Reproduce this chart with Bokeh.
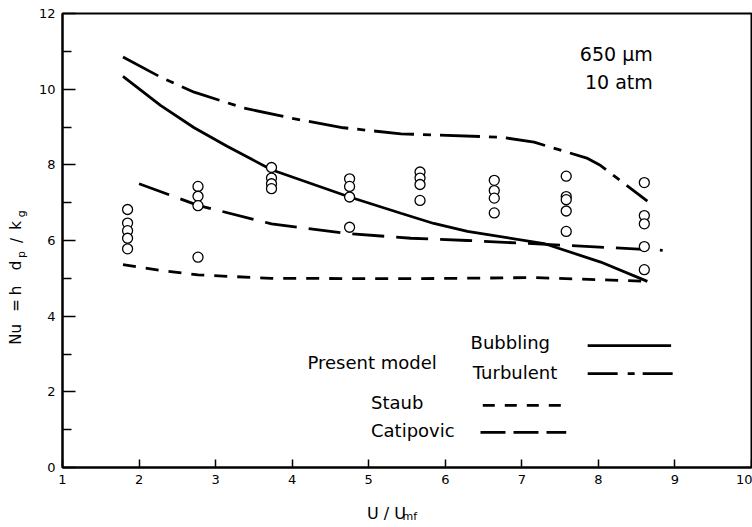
from bokeh.plotting import figure
from bokeh.models import Label, FixedTicker, Range1d, LinearAxis
from bokeh.embed import file_html
from bokeh.resources import INLINE

FONT = "DejaVu Sans"

# ---- data ----
bub_u = [1.79, 2.28, 2.72, 3.15, 3.46, 3.73, 4.75, 5.42, 5.85, 6.29, 7.29, 8.03, 8.64]
bub_nu = [10.34, 9.57, 8.98, 8.49, 8.16, 7.87, 7.15, 6.72, 6.45, 6.24, 5.92, 5.43, 4.92]

tur_u = [1.79, 2.28, 2.72, 3.37, 4.02, 4.67, 5.42, 6.73, 7.16, 7.86, 8.03, 8.64]
tur_nu = [10.85, 10.32, 9.92, 9.50, 9.22, 8.98, 8.82, 8.73, 8.60, 8.17, 7.98, 7.04]

cat_u = [2.00, 2.77, 3.73, 4.75, 5.55, 6.29, 7.60, 8.84]
cat_nu = [7.50, 6.93, 6.44, 6.18, 6.06, 6.00, 5.87, 5.74]

stb_u = [1.79, 2.28, 2.77, 3.73, 5.55, 7.16, 8.66]
stb_nu = [5.36, 5.21, 5.09, 5.00, 4.99, 5.02, 4.92]

exp_u = [1.85] * 5 + [2.77] * 4 + [3.73] * 4 + [4.75] * 4 + [5.67] * 4 + [6.64] * 4 + [7.58] * 5 + [8.60] * 5
exp_nu = [6.82, 6.46, 6.26, 6.06, 5.78,
          7.43, 7.17, 6.92, 5.56,
          7.93, 7.65, 7.50, 7.37,
          7.63, 7.43, 7.15, 6.35,
          7.81, 7.65, 7.48, 7.06,
          7.59, 7.32, 7.12, 6.73,
          7.70, 7.16, 7.08, 6.78, 6.24,
          7.53, 6.66, 6.44, 5.84, 5.23]

x_ticks = [1, 2, 3, 4, 5, 6, 7, 8, 9, 10]
y_ticks = [0, 2, 4, 6, 8, 10, 12]
y_minor = [1, 3, 5, 7, 9, 11]

# axis titles, split into pieces so the subscripts can be set lower/smaller
x_title_main = ["U / U"]
x_title_sub = ["mf"]
y_title_main = ["Nu", "=", "h", "d", "/", "k"]
y_title_sub = ["p", "g"]

# where the pieces sit along their axis (layout, in axis units)
x_main_pos = [5.232]
x_sub_pos = [5.536]
y_main_pos = [3.52, 4.28, 4.68, 5.34, 6.0, 6.4]
y_sub_pos = [5.63, 6.71]

W, H = 752, 527

# ---- figure ----
p = figure(width=W, height=H, x_range=Range1d(1, 10), y_range=Range1d(0, 12),
           output_backend="svg", toolbar_location=None,
           min_border_left=62, min_border_right=1, min_border_top=13, min_border_bottom=60)
p.xgrid.visible = False
p.ygrid.visible = False
p.outline_line_color = "black"
p.outline_line_width = 2
p.background_fill_color = "white"
p.border_fill_color = "white"

p.xaxis.ticker = FixedTicker(ticks=x_ticks)
p.yaxis.ticker = FixedTicker(ticks=y_ticks, minor_ticks=y_minor)
for ax in (p.xaxis, p.yaxis):
    ax.axis_line_width = 2
    ax.axis_line_color = "black"
    ax.major_tick_line_color = "black"
    ax.major_tick_line_width = 1.5
    ax.minor_tick_line_color = "black"
    ax.minor_tick_line_width = 1.5
    ax.major_tick_out = 0
    ax.minor_tick_out = 0
    ax.major_label_text_font = FONT
    ax.major_label_text_font_size = "13px"
    ax.major_label_text_color = "black"
    ax.major_label_standoff = 7
p.xaxis.major_tick_in = 8
p.xaxis.minor_tick_in = 0
p.yaxis.major_tick_in = 13
p.yaxis.minor_tick_in = 9


def text_axis(side, positions, texts, size, standoff, orientation="horizontal"):
    ax = LinearAxis(ticker=FixedTicker(ticks=positions),
                    major_label_overrides=dict(zip(positions, texts)))
    ax.axis_line_color = None
    ax.major_tick_line_color = None
    ax.minor_tick_line_color = None
    ax.major_tick_in = 0
    ax.major_tick_out = 0
    ax.minor_tick_in = 0
    ax.minor_tick_out = 0
    ax.major_label_text_font = FONT
    ax.major_label_text_font_size = size
    ax.major_label_text_color = "black"
    ax.major_label_standoff = standoff
    ax.major_label_orientation = orientation
    p.add_layout(ax, side)


# x title: main text row, then subscript pulled back up beside it
text_axis("below", x_main_pos, x_title_main, "16px", 17)
text_axis("below", x_sub_pos, x_title_sub, "11px", -16)
# y title: subscripts (nearer the frame) first, then main text pulled back over them
text_axis("left", y_sub_pos, y_title_sub, "11px", 7, "vertical")
text_axis("left", y_main_pos, y_title_main, "15px", -13, "vertical")

LW = 2.8
p.line(bub_u, bub_nu, line_color="black", line_width=LW)
p.line(tur_u, tur_nu, line_color="black", line_width=LW, line_dash="40 9 8 9")
p.line(cat_u, cat_nu, line_color="black", line_width=LW, line_dash="32 12")
p.line(stb_u, stb_nu, line_color="black", line_width=LW, line_dash="13 10")
p.scatter(exp_u, exp_nu, marker="circle", size=10, fill_color="white",
          line_color="black", line_width=1.3)

# ---- legend (drawn as in the original figure) ----
p.line([7.86, 8.95], [3.22, 3.22], line_color="black", line_width=LW)
p.line([7.86, 9.01], [2.48, 2.48], line_color="black", line_width=LW, line_dash="30 10 7 8")
p.line([6.49, 7.51], [1.64, 1.64], line_color="black", line_width=LW, line_dash="12 10")
p.line([6.46, 7.58], [0.93, 0.93], line_color="black", line_width=LW, line_dash="25 8")


def lab(x, y, t, size="18px", align="left", baseline="middle"):
    p.add_layout(Label(x=x, y=y, text=t, text_font=FONT, text_font_size=size,
                       text_align=align, text_baseline=baseline, text_color="black"))


lab(6.33, 3.30, "Bubbling")
lab(4.20, 2.78, "Present model")
lab(6.36, 2.51, "Turbulent")
lab(5.03, 1.72, "Staub")
lab(5.03, 0.98, "Catipovic")

lab(8.71, 10.94, "650 μm", size="19px", align="right")
lab(8.71, 10.18, "10 atm", size="19px", align="right")

open("out.html", "w").write(file_html(p, INLINE))
